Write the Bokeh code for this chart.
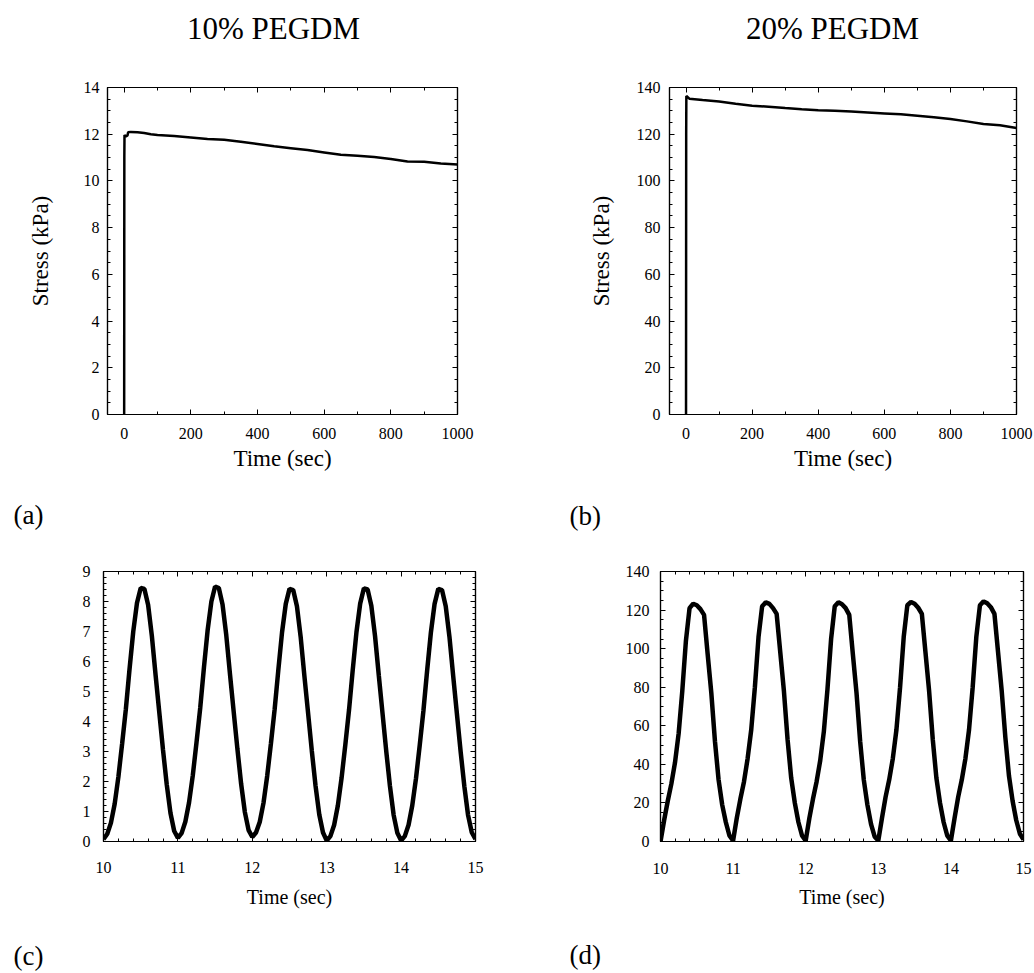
from bokeh.plotting import figure
from bokeh.models import LinearAxis, Label, Range1d, SingleIntervalTicker
from bokeh.layouts import column, row
from bokeh.embed import file_html
from bokeh.resources import INLINE

FONT = "Liberation Serif"

# ---------------- data ----------------
# (a) 10% PEGDM stress relaxation
time_a = [0, 0.5, 1, 5, 10, 12, 20, 40, 60, 80, 100, 150, 200, 250, 300, 350, 400,
          450, 500, 550, 600, 650, 700, 750, 800, 850, 900, 950, 1000]
stress_a = [0, 11.0, 11.97, 11.9, 11.95, 12.08, 12.1, 12.08, 12.05, 12.0, 11.97, 11.92,
            11.86, 11.8, 11.76, 11.68, 11.58, 11.48, 11.4, 11.32, 11.22, 11.12, 11.08,
            11.02, 10.94, 10.83, 10.82, 10.75, 10.70]

# (b) 20% PEGDM stress relaxation
time_b = [0, 0.5, 1, 10, 50, 100, 150, 200, 250, 300, 350, 400, 450, 500, 550, 600,
          650, 700, 750, 800, 850, 900, 950, 1000]
stress_b = [0, 120.0, 136.4, 135.2, 134.6, 134.0, 133.0, 132.2, 131.8, 131.2, 130.7,
            130.3, 130.0, 129.7, 129.3, 128.9, 128.5, 127.9, 127.3, 126.5, 125.5,
            124.4, 123.8, 122.7]

# (c) 10% PEGDM cyclic loading
time_c = [10.00, 10.05, 10.10, 10.15, 10.20, 10.25, 10.30, 10.35, 10.40, 10.45,
          10.50, 10.55, 10.60, 10.65, 10.70, 10.75, 10.80, 10.85, 10.90, 10.95,
          11.00, 11.05, 11.10, 11.15, 11.20, 11.25, 11.30, 11.35, 11.40, 11.45,
          11.50, 11.55, 11.60, 11.65, 11.70, 11.75, 11.80, 11.85, 11.90, 11.95,
          12.00, 12.05, 12.10, 12.15, 12.20, 12.25, 12.30, 12.35, 12.40, 12.45,
          12.50, 12.55, 12.60, 12.65, 12.70, 12.75, 12.80, 12.85, 12.90, 12.95,
          13.00, 13.05, 13.10, 13.15, 13.20, 13.25, 13.30, 13.35, 13.40, 13.45,
          13.50, 13.55, 13.60, 13.65, 13.70, 13.75, 13.80, 13.85, 13.90, 13.95,
          14.00, 14.05, 14.10, 14.15, 14.20, 14.25, 14.30, 14.35, 14.40, 14.45,
          14.50, 14.55, 14.60, 14.65, 14.70, 14.75, 14.80, 14.85, 14.90, 14.95,
          15.00]
stress_c = [0.08, 0.25, 0.62, 1.25, 2.15, 3.25, 4.40, 5.75, 7.00, 7.95,
            8.45, 8.42, 7.88, 6.85, 5.55, 4.30, 3.05, 1.90, 0.95, 0.35,
            0.12, 0.28, 0.66, 1.30, 2.20, 3.30, 4.45, 5.80, 7.05, 8.00,
            8.50, 8.45, 7.90, 6.88, 5.58, 4.32, 3.08, 1.92, 0.98, 0.38,
            0.15, 0.30, 0.65, 1.28, 2.18, 3.26, 4.40, 5.72, 6.98, 7.92,
            8.42, 8.38, 7.84, 6.82, 5.52, 4.28, 3.02, 1.86, 0.90, 0.30,
            0.03, 0.18, 0.55, 1.20, 2.12, 3.22, 4.38, 5.72, 6.98, 7.93,
            8.44, 8.40, 7.86, 6.84, 5.54, 4.28, 3.02, 1.85, 0.88, 0.28,
            0.03, 0.18, 0.55, 1.20, 2.10, 3.20, 4.36, 5.70, 6.96, 7.92,
            8.42, 8.38, 7.84, 6.82, 5.52, 4.26, 3.00, 1.84, 0.88, 0.30,
            0.08]

# (d) 20% PEGDM cyclic loading
time_d = time_c
stress_d = [0.0, 11, 21, 30, 41, 56, 78, 104, 121, 123.3,
            122.5, 120.5, 117.5, 97, 77, 52, 32, 19, 10, 3,
            0.5, 12, 22, 31, 43, 58, 80, 106, 122, 124,
            123.2, 121, 118, 98, 78, 53, 33, 20, 10, 3,
            0.5, 12, 22, 31, 42, 57, 79, 105, 122, 124,
            123, 121, 117.5, 97, 77, 52, 32, 19, 9, 2.5,
            0.5, 12, 23, 32, 43, 58, 80, 106, 122.5, 124.2,
            123.3, 121.2, 118, 98, 78, 53, 33, 20, 10, 3,
            0.5, 12, 23, 32, 43, 58, 80, 106, 122.5, 124.5,
            123.5, 121.5, 118, 98, 78, 54, 34, 21, 11, 4,
            1.0]

titles = ["10% PEGDM", "20% PEGDM"]
panel_tags = ["(a)", "(b)", "(c)", "(d)"]
x_label = "Time (sec)"
y_label = "Stress (kPa)"


def style_axis(ax, show_labels, label_size, standoff):
    ax.axis_line_color = "black"
    ax.axis_line_width = 1.2
    ax.major_tick_in = 5
    ax.major_tick_out = 0
    ax.minor_tick_in = 3
    ax.minor_tick_out = 0
    ax.major_tick_line_color = "black"
    ax.minor_tick_line_color = "black"
    ax.major_label_text_font = FONT
    ax.major_label_text_font_size = label_size
    ax.major_label_text_color = "black" if show_labels else None
    ax.major_label_standoff = standoff
    ax.axis_label_text_font = FONT
    ax.axis_label_text_font_style = "normal"
    ax.axis_label_text_color = "black"


def make_panel(width, height, borders, xr, yr, xint, xminor, yint, yminor,
               xstand, ystand, xlab_size, xlab_standoff, ylab_standoff):
    bl, br, bt, bb = borders
    p = figure(width=width, height=height, x_range=Range1d(*xr), y_range=Range1d(*yr),
               output_backend="svg", toolbar_location=None,
               min_border_left=bl, min_border_right=br,
               min_border_top=bt, min_border_bottom=bb)
    p.xgrid.visible = False
    p.ygrid.visible = False
    p.outline_line_color = "black"
    p.outline_line_width = 1.2
    p.background_fill_color = "white"
    p.border_fill_color = "white"

    p.xaxis.ticker = SingleIntervalTicker(interval=xint, num_minor_ticks=xminor)
    p.yaxis.ticker = SingleIntervalTicker(interval=yint, num_minor_ticks=yminor)
    for ax in p.xaxis:
        style_axis(ax, True, "16px", xstand)
        ax.axis_label = x_label
        ax.axis_label_text_font_size = xlab_size
        ax.axis_label_standoff = xlab_standoff
    for ax in p.yaxis:
        style_axis(ax, True, "16px", ystand)
        if ylab_standoff is not None:
            ax.axis_label = y_label
            ax.axis_label_text_font_size = "23px"
            ax.axis_label_standoff = ylab_standoff

    top = LinearAxis(ticker=SingleIntervalTicker(interval=xint, num_minor_ticks=xminor))
    style_axis(top, False, "16px", 0)
    right = LinearAxis(ticker=SingleIntervalTicker(interval=yint, num_minor_ticks=yminor))
    style_axis(right, False, "16px", 0)
    p.add_layout(top, "above")
    p.add_layout(right, "right")
    return p


def text_fig(width, height, items):
    """A plain strip of canvas holding free text (titles, panel tags)."""
    p = figure(width=width, height=height, x_range=Range1d(0, width),
               y_range=Range1d(0, height), x_axis_type=None, y_axis_type=None,
               output_backend="svg", toolbar_location=None, min_border=0)
    p.grid.visible = False
    p.outline_line_color = None
    p.background_fill_color = "white"
    p.border_fill_color = "white"
    for text, x, y, size, align in items:
        p.add_layout(Label(x=x, y=y, text=text, text_font=FONT, text_font_size=size,
                           text_color="black", text_align=align,
                           text_baseline="alphabetic"))
    return p


W = 517
# title strip
ta = text_fig(W, 50, [(titles[0], 273, 22, "31px", "center")])
tb = text_fig(W, 50, [(titles[1], 315, 22, "31px", "center")])

# ---------- panel (a) ----------
pa = make_panel(W, 430, (107, 60, 37, 63), (-50, 1000), (0, 14), 200, 2, 2, 4,
                13, 8, "23px", 4, 28)
pa.line(time_a, stress_a, line_color="black", line_width=2.5)

# ---------- panel (b) ----------
pb = make_panel(W, 430, (152, 18, 36, 66), (-50, 1000), (0, 140), 200, 2, 20, 4,
                13, 9, "23px", 4, 20)
pb.line(time_b, stress_b, line_color="black", line_width=2.5)

# tag strip 1
ga = text_fig(W, 68, [(panel_tags[0], 13, 34, "27px", "left")])
gb = text_fig(W, 68, [(panel_tags[1], 52, 33, "27px", "left")])

# ---------- panel (c) ----------
pc = make_panel(W, 382, (103, 42, 23, 89), (10, 15), (0, 9), 1, 5, 1, 5,
                20, 13, "20px", 10, None)
pc.line(time_c, stress_c, line_color="black", line_width=4.5)

# ---------- panel (d) ----------
pd = make_panel(W, 382, (143, 11, 19, 87), (10, 15), (0, 140), 1, 5, 20, 4,
                21, 11, "20px", 9, None)
pd.line(time_d, stress_d, line_color="black", line_width=4.5)

# tag strip 2
gc = text_fig(W, 43, [(panel_tags[2], 13, 18, "27px", "left")])
gd = text_fig(W, 43, [(panel_tags[3], 52, 19, "27px", "left")])

layout = column(row(ta, tb, spacing=0),
                row(pa, pb, spacing=0),
                row(ga, gb, spacing=0),
                row(pc, pd, spacing=0),
                row(gc, gd, spacing=0), spacing=0)

open("out.html", "w").write(file_html(layout, INLINE))
